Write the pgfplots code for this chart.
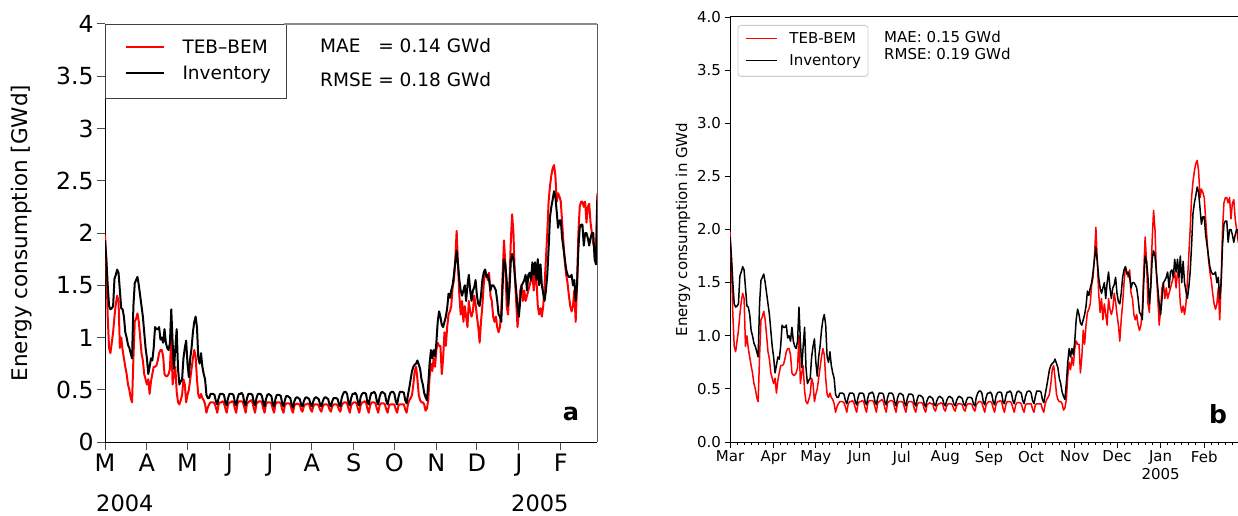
\documentclass[border=0pt]{standalone}
\usepackage{fontspec}
\setmainfont{DejaVu Sans}
\usepackage{pgfplots}
\usepackage{pgfplotstable}
\pgfplotsset{compat=1.18}

% daily energy consumption, day 0 = 1 March 2004
\pgfplotstableread{
d teb inv
0 1.98 1.93
1 1.70 1.75
2 1.20 1.50
3 0.90 1.30
4 0.85 1.27
5 0.95 1.28
6 1.05 1.30
7 1.20 1.56
8 1.32 1.60
9 1.40 1.65
10 1.35 1.62
11 0.90 1.45
12 1.00 1.28
13 0.88 1.27
14 0.80 1.20
15 0.72 1.05
16 0.65 1.00
17 0.55 0.93
18 0.50 0.90
19 0.42 0.85
20 0.38 0.80
21 0.80 1.30
22 1.15 1.52
23 1.18 1.55
24 1.23 1.58
25 1.15 1.50
26 1.00 1.40
27 0.85 1.30
28 0.78 1.20
29 0.65 1.05
30 0.60 0.90
31 0.55 0.80
32 0.60 0.65
33 0.46 0.72
34 0.58 0.80
35 0.65 0.78
36 0.72 0.90
37 0.72 1.10
38 0.73 1.08
39 0.78 1.08
40 0.85 1.10
41 0.88 0.98
42 0.88 1.00
43 0.82 0.95
44 0.65 1.08
45 0.63 0.95
46 0.63 0.90
47 0.65 0.88
48 0.70 0.95
49 1.00 1.27
50 0.55 0.95
51 0.65 0.70
52 0.72 0.90
53 0.48 1.08
54 0.38 0.70
55 0.36 0.55
56 0.40 0.58
57 0.45 0.60
58 0.60 0.80
59 0.55 0.90
60 0.38 0.97
61 0.45 0.75
62 0.50 0.62
63 0.60 0.80
64 0.70 0.90
65 0.80 1.05
66 0.88 1.15
67 0.82 1.20
68 0.60 1.10
69 0.45 0.80
70 0.42 0.75
71 0.46 0.85
72 0.42 0.72
73 0.40 0.65
74 0.36 0.60
75 0.28 0.45
76 0.33 0.42
77 .36 .42
78 .38 .46
79 .38 .46
80 .38 .46
81 .37 .45
82 .33 .39
83 .28 .36
84 .36 .42
85 .38 .46
86 .38 .46
87 .39 .46
88 .37 .45
89 .32 .38
90 .28 .35
91 .36 .42
92 .38 .46
93 .38 .46
94 .39 .46
95 .38 .45
96 .32 .38
97 .28 .35
98 .37 .42
99 .39 .46
100 .39 .46
101 .39 .47
102 .38 .45
103 .33 .38
104 .28 .35
105 .37 .42
106 .38 .46
107 .39 .46
108 .40 .46
109 .38 .45
110 .32 .38
111 .28 .35
112 .37 .42
113 .38 .46
114 .39 .46
115 .39 .46
116 .38 .44
117 .32 .38
118 .28 .34
119 .36 .41
120 .38 .45
121 .38 .46
122 .38 .45
123 .37 .44
124 .32 .37
125 .28 .34
126 .36 .41
127 .38 .45
128 .38 .45
129 .38 .45
130 .37 .44
131 .31 .37
132 .28 .34
133 .35 .40
134 .37 .44
135 .37 .44
136 .37 .43
137 .36 .42
138 .31 .36
139 .28 .33
140 .35 .39
141 .36 .42
142 .37 .43
143 .36 .42
144 .36 .41
145 .31 .36
146 .29 .34
147 .34 .39
148 .36 .42
149 .36 .43
150 .37 .42
151 .36 .41
152 .31 .36
153 .29 .34
154 .34 .39
155 .36 .42
156 .36 .43
157 .36 .42
158 .35 .41
159 .31 .36
160 .29 .34
161 .34 .39
162 .36 .42
163 .36 .43
164 .36 .42
165 .35 .41
166 .31 .36
167 .29 .34
168 .34 .39
169 .36 .42
170 .36 .42
171 .36 .42
172 .35 .41
173 .31 .36
174 .29 .34
175 .35 .42
176 .37 .46
177 .38 .48
178 .38 .48
179 .37 .46
180 .32 .38
181 .28 .35
182 .35 .42
183 .37 .46
184 .38 .46
185 .38 .47
186 .37 .45
187 .32 .38
188 .28 .35
189 .35 .43
190 .38 .46
191 .38 .47
192 .39 .47
193 .38 .46
194 .32 .38
195 .28 .36
196 .35 .43
197 .38 .47
198 .38 .47
199 .38 .48
200 .37 .46
201 .32 .39
202 .28 .36
203 .35 .43
204 .37 .47
205 .37 .48
206 .37 .47
207 .36 .46
208 .31 .39
209 .28 .36
210 .35 .43
211 .36 .47
212 .36 .48
213 .36 .48
214 .36 .46
215 .31 .39
216 .28 .36
217 .35 .43
218 .36 .48
219 .36 .48
220 .36 .48
221 .36 .47
222 .31 .40
223 .28 .37
224 .36 .45
225 .40 .52
226 .42 .60
227 .45 .68
228 .55 .72
229 .68 .74
230 .72 .75
231 .60 .78
232 .45 .74
233 .40 .70
234 .38 .60
235 .38 .55
236 .36 .47
237 .30 .43
238 .32 .40
239 .40 .55
240 .62 .75
241 .75 .88
242 .68 .80
243 .80 .88
244 .72 .82
245 .88 .95
246 .95 1.15
247 .92 1.25
248 .92 1.20
249 .65 1.12
250 .80 1.10
251 1.05 1.15
252 .92 1.20
253 1.10 1.28
254 1.22 1.42
255 1.25 1.38
256 1.30 1.45
257 1.48 1.50
258 1.55 1.60
259 1.75 1.72
260 2.02 1.83
261 1.70 1.70
262 1.40 1.55
263 1.22 1.45
264 1.35 1.40
265 1.15 1.45
266 1.30 1.50
267 1.20 1.35
268 1.10 1.50
269 1.35 1.60
270 1.25 1.45
271 1.20 1.35
272 1.25 1.45
273 1.40 1.48
274 1.32 1.55
275 1.20 1.40
276 1.10 1.32
277 .95 1.30
278 1.15 1.40
279 1.30 1.55
280 1.50 1.62
281 1.65 1.65
282 1.60 1.58
283 1.55 1.60
284 1.62 1.55
285 1.40 1.45
286 1.35 1.50
287 1.20 1.50
288 1.15 1.48
289 1.20 1.45
290 1.10 1.35
291 1.05 1.22
292 1.10 1.20
293 1.25 1.15
294 1.60 1.50
295 1.93 1.75
296 1.70 1.70
297 1.30 1.55
298 1.22 1.30
299 1.50 1.45
300 1.90 1.72
301 2.18 1.80
302 2.00 1.75
303 1.60 1.60
304 1.35 1.45
305 1.10 1.30
306 1.25 1.20
307 1.45 1.35
308 1.50 1.50
309 1.35 1.52
310 1.45 1.55
311 1.35 1.60
312 1.40 1.45
313 1.45 1.60
314 1.50 1.62
315 1.55 1.55
316 1.60 1.72
317 1.45 1.60
318 1.60 1.72
319 1.55 1.55
320 1.30 1.75
321 1.22 1.50
322 1.28 1.70
323 1.20 1.50
324 1.30 1.42
325 1.50 1.35
326 1.75 1.45
327 2.00 1.60
328 2.30 1.85
329 2.45 2.15
330 2.55 2.25
331 2.62 2.32
332 2.65 2.40
333 2.55 2.35
334 2.30 2.20
335 2.38 2.05
336 2.35 2.12
337 2.30 2.12
338 2.10 1.95
339 1.90 1.85
340 1.72 1.75
341 1.60 1.65
342 1.52 1.60
343 1.40 1.58
344 1.30 1.58
345 1.25 1.60
346 1.30 1.50
347 1.45 1.55
348 1.15 1.35
349 1.50 1.50
350 2.00 1.85
351 2.25 2.05
352 2.30 2.08
353 2.30 2.08
354 2.25 1.88
355 2.30 2.00
356 2.10 2.00
357 2.25 1.95
358 2.28 1.88
359 2.10 1.95
360 2.00 2.00
361 1.90 2.00
362 1.85 1.75
363 1.72 1.70
364 2.38 2.32
}\energy

\begin{document}
\begin{tikzpicture}[x=1pt,y=1pt]
\useasboundingbox (0,0) rectangle (1238,515);

% ---- panel a ----
\begin{axis}[
    at={(105pt,73pt)}, anchor=south west,
    scale only axis, width=492.3pt, height=418pt,
    xmin=0, xmax=364, ymin=0, ymax=4,
    axis lines*=left,
    axis line style={-, black, line width=1pt},
    xtick={0,31,61,92,122,153,184,214,245,275,306,337},
    xticklabels={M,A,M,J,J,A,S,O,N,D,J,F},
    ytick={0,0.5,1,1.5,2,2.5,3,3.5,4},
    tick align=outside, major tick length=8pt,
    tick style={black!70, line width=1pt},
    /pgf/number format/assume math mode=true,
    x tick label style={font=\fontsize{24}{28}\selectfont},
    y tick label style={font=\fontsize{23.5}{27}\selectfont},
    ylabel={Energy consumption [GWd]},
    ylabel style={font=\fontsize{21.5}{25}\selectfont,
        at={(axis description cs:-0.169,0.5)}, anchor=center},
    legend cell align=left,
    legend style={at={(0,1)}, anchor=north west, draw=black!75,
        line width=1pt, fill=white, inner xsep=16pt, inner ysep=13.75pt,
        row sep=6pt, font=\fontsize{18.5}{22}\selectfont,
        nodes={inner sep=0pt, text height=15pt, text depth=5pt}},
    legend image code/.code={
        \draw[#1] (3pt,1.75pt) -- (41pt,1.75pt);
        \path (0pt,0pt) (59pt,0pt);},
]
\addplot[red, line width=2pt, line join=round] table[x=d, y=teb] {\energy};
\addlegendentry{TEB--BEM}
\addplot[black, line width=2pt, line join=round] table[x=d, y=inv] {\energy};
\addlegendentry{Inventory}
\end{axis}
\draw[black!45, line width=1.2pt] (284,491) -- (597.3,491);
\draw[black!65, line width=1.2pt] (597.3,491) -- (597.3,73);
\begin{scope}[every node/.style={inner sep=0pt, anchor=base west,
        font=\fontsize{18.5}{22}\selectfont}]
\node at (320,462.3) {\makebox[2.825em][l]{MAE} = 0.14 GWd};
\node at (320,428.7) {RMSE = 0.18 GWd};
\end{scope}
\node[inner sep=0pt, anchor=base, font=\fontsize{24}{28}\selectfont\bfseries]
    at (571,94.3) {a};
\node[inner sep=0pt, anchor=base west, font=\fontsize{22.5}{26}\selectfont]
    at (96,3.8) {2004};
\node[inner sep=0pt, anchor=base west, font=\fontsize{22.5}{26}\selectfont]
    at (511,3.8) {2005};

% ---- panel b ----
\begin{axis}[
    at={(730pt,73pt)}, anchor=south west,
    scale only axis, width=508pt, height=425pt,
    xmin=0, xmax=361, ymin=0, ymax=4,
    axis x line=box, axis y line*=left,
    axis line style={-, black, line width=1pt},
    xtick pos=left, ytick pos=left,
    xtick={0,31,61,92,122,153,184,214,245,275,306,337},
    xticklabels={Mar,Apr,May,Jun,Jul,Aug,Sep,Oct,Nov,Dec,{Jan\\2005},Feb},
    minor xtick={5,10,15,20,25,36,41,46,51,56,66,71,76,81,86,
        97,102,107,112,117,127,132,137,142,147,158,163,168,173,178,
        189,194,199,204,209,219,224,229,234,239,250,255,260,265,270,
        280,285,290,295,300,311,316,321,326,331,342,347,352,357},
    ytick={0,0.5,1,1.5,2,2.5,3,3.5,4},
    tick align=outside, major tick length=5.5pt, minor tick length=3.3pt,
    tick style={black, line width=0.9pt},
    /pgf/number format/assume math mode=true,
    yticklabel style={/pgf/number format/.cd, fixed, fixed zerofill, precision=1},
    tick label style={font=\fontsize{15}{17.5}\selectfont},
    xticklabel style={align=center},
    ylabel={Energy consumption in GWd},
    ylabel style={font=\fontsize{15}{18}\selectfont},
    legend cell align=left,
    legend style={at={(0.0148,0.9812)}, anchor=north west, draw=black!20,
        line width=0.8pt, rounded corners=3pt, fill=white,
        inner xsep=7pt, inner ysep=7pt, row sep=7pt,
        font=\fontsize{15}{18}\selectfont,
        nodes={inner sep=0pt, text height=11.5pt, text depth=3.5pt}},
    legend image code/.code={
        \draw[#1] (0pt,1.45pt) -- (31pt,1.45pt);
        \path (0pt,0pt) (43pt,0pt);},
]
\addplot[red, line width=1.5pt, line join=round] table[x=d, y=teb] {\energy};
\addlegendentry{TEB-BEM}
\addplot[black, line width=1.5pt, line join=round] table[x=d, y=inv] {\energy};
\addlegendentry{Inventory}
\end{axis}
\begin{scope}[every node/.style={inner sep=0pt, anchor=base west,
        font=\fontsize{15}{18}\selectfont}]
\node at (884,472) {MAE: 0.15 GWd};
\node at (884,455.5) {RMSE: 0.19 GWd};
\end{scope}
\node[inner sep=0pt, anchor=base, font=\fontsize{25}{30}\selectfont\bfseries]
    at (1218,92) {b};
\end{tikzpicture}
\end{document}
